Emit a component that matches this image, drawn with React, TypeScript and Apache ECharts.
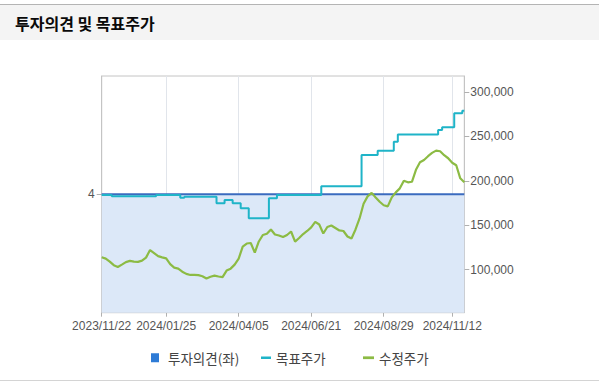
import React, { useEffect, useRef } from 'react';
import * as echarts from 'echarts';

// x-axis anchor dates (tick labels) and their category positions
const tickLabels = ['2023/11/22', '2024/01/25', '2024/04/05', '2024/06/21', '2024/08/29', '2024/11/12'];
const tickIdx = [0, 16, 34, 52, 70, 87];
const lastDate = '2024/11/22';
const pointCount = 91;

// 수정주가 (adjusted price)
const priceValues = [
  113900, 112400, 109000, 105000, 103000, 105600, 108500, 109800, 109000, 108700,
  110100, 113500, 122000, 118600, 115200, 113800, 112600, 106200, 102300, 101100,
  97700, 95200, 94000, 94000, 93800, 92600, 90100, 92000, 93200, 92300,
  91500, 98900, 101100, 105600, 112400, 126000, 129400, 130000, 119200, 131700,
  139000, 140400, 145200, 139600, 138400, 136700, 139000, 142900, 131600, 135600,
  140100, 143500, 147500, 153700, 150800, 140700, 148000, 149700, 146900, 144100,
  143500, 137300, 135000, 145200, 157600, 174200, 182500, 186400, 181300, 176400,
  172500, 171200, 181300, 187000, 191500, 200000, 198300, 198900, 212400, 220900,
  223500, 227700, 231400, 234000, 233300, 228800, 225400, 220300, 217500, 202800,
  198300,
];

// 목표주가 (target price)
const targetValues = [
  184000, 184000, 184000,
  182500, 182500, 182500, 182500, 182500, 182500, 182500, 182500, 182500, 182500, 182500,
  184000, 184000, 184000, 184000, 184000, 184000,
  181000,
  182100, 182100, 182100, 182100, 182100, 182100, 182100, 182100,
  174700, 174700,
  178400, 178400,
  174700, 174700,
  169000, 169000,
  157800, 157800, 157800, 157800, 157800,
  180300, 180300,
  184000, 184000, 184000, 184000, 184000, 184000, 184000, 184000, 184000, 184000, 184000,
  194000, 194000, 194000, 194000, 194000, 194000, 194000, 194000, 194000, 194000,
  229000, 229000, 229000, 229000,
  233900, 233900, 233900, 233900,
  244000,
  252100, 252100, 252100, 252100, 252100, 252100, 252100, 252100, 252100, 252100,
  257200,
  260200, 260200, 260200,
  276000, 276000,
  278900,
];

// 투자의견 (opinion, left axis): constant level 4 across the period
const opinionStart = 4;
const opinionEnd = 4;

const rightTicks = [100000, 150000, 200000, 250000, 300000];
const leftTicks = [4];

function parseD(s: string) {
  const [y, m, d] = s.split('/').map(Number);
  return Date.UTC(y, m - 1, d);
}
function fmtD(t: number) {
  const d = new Date(t);
  const mm = String(d.getUTCMonth() + 1).padStart(2, '0');
  const dd = String(d.getUTCDate()).padStart(2, '0');
  return `${d.getUTCFullYear()}/${mm}/${dd}`;
}

function buildCategories() {
  const aIdx = [...tickIdx, pointCount - 1];
  const aT = [...tickLabels, lastDate].map(parseD);
  const out: string[] = [];
  for (let i = 0; i < pointCount; i++) {
    let k = 0;
    while (k < aIdx.length - 2 && i > aIdx[k + 1]) k++;
    const f = (i - aIdx[k]) / (aIdx[k + 1] - aIdx[k]);
    const t = aT[k] + f * (aT[k + 1] - aT[k]);
    const day = 86400000;
    out.push(fmtD(Math.round(t / day) * day));
  }
  return out;
}

export default function App() {
  const ref = useRef<HTMLDivElement>(null);
  useEffect(() => {
    document.body.style.margin = '0';
    const categories = buildCategories();
    const showIdx = (i: number) => tickIdx.indexOf(i) >= 0;
    const chart = echarts.init(ref.current!, null, { renderer: 'svg' });
    const font = "'Liberation Sans', 'Noto Sans CJK KR', sans-serif";
    const kfont = "'Noto Sans CJK KR', sans-serif";
    chart.setOption({
      animation: false,
      textStyle: { fontFamily: font },
      graphic: [
        { type: 'rect', z: -10, shape: { x: 0, y: 5, width: 599, height: 35 }, style: { fill: '#f4f4f4' } },
        { type: 'line', z: -10, shape: { x1: 0, y1: 4.5, x2: 599, y2: 4.5 }, style: { stroke: '#b4b4b4', lineWidth: 1 } },
        { type: 'line', z: -10, shape: { x1: 0, y1: 380.5, x2: 599, y2: 380.5 }, style: { stroke: '#d4d4d4', lineWidth: 1 } },
      ],
      title: {
        text: '투자의견 및 목표주가',
        left: 15,
        top: 15,
        padding: 0,
        textStyle: { fontSize: 16, fontWeight: 'bold', color: '#0a0a0a', fontFamily: kfont },
      },
      legend: [
        {
          data: [{ name: '투자의견(좌)', icon: 'rect' }],
          left: 146, top: 346, itemWidth: 8, itemHeight: 9, selectedMode: false,
          itemStyle: { borderWidth: 0 },
          textStyle: { fontSize: 13.5, color: '#444', fontFamily: kfont, padding: [0, 0, 0, 4] },
        },
        {
          data: [{ name: '목표주가', icon: 'path://M0,0H10V2.5H0Z' }],
          left: 256, top: 346, itemWidth: 10, itemHeight: 9, selectedMode: false,
          itemStyle: { borderWidth: 0 },
          textStyle: { fontSize: 13.5, color: '#444', fontFamily: kfont },
        },
        {
          data: [{ name: '수정주가', icon: 'path://M0,0H10V2.5H0Z' }],
          left: 358, top: 346, itemWidth: 11, itemHeight: 9, selectedMode: false,
          itemStyle: { borderWidth: 0 },
          textStyle: { fontSize: 13.5, color: '#444', fontFamily: kfont },
        },
      ],
      grid: {
        left: 101.7, top: 76, right: 134.7, bottom: 72.3,
        show: true, borderColor: '#c4c4c4', borderWidth: 1, backgroundColor: '#fff',
      },
      xAxis: {
        type: 'category',
        data: categories,
        boundaryGap: false,
        axisLine: { lineStyle: { color: '#c4c4c4' } },
        axisTick: { interval: showIdx, length: 4, lineStyle: { color: '#b0b0b0' } },
        axisLabel: { interval: showIdx, color: '#555', fontSize: 12, margin: 7 },
        splitLine: { show: true, interval: showIdx, lineStyle: { color: '#e1e5eb' } },
      },
      yAxis: [
        {
          type: 'value', min: 0, max: 8, position: 'left',
          axisLine: { show: true, lineStyle: { color: '#c4c4c4' } },
          axisTick: { show: true, length: 5, customValues: leftTicks, lineStyle: { color: '#b0b0b0' } },
          axisLabel: { customValues: leftTicks, color: '#555', fontSize: 12, margin: 7 },
          splitLine: { show: false },
        },
        {
          type: 'value', min: 51500, max: 318000, position: 'right',
          axisLine: { show: true, lineStyle: { color: '#c4c4c4' } },
          axisTick: { show: true, length: 5, customValues: rightTicks, lineStyle: { color: '#b0b0b0' } },
          axisLabel: {
            customValues: rightTicks, color: '#555', fontSize: 12, margin: 6,
            formatter: (v: number) => v.toLocaleString('en-US'),
          },
          splitLine: { show: false },
        },
      ],
      series: [
        {
          name: '투자의견(좌)', type: 'line', yAxisIndex: 0, z: 1,
          data: [[0, opinionStart], [pointCount - 1, opinionEnd]],
          symbol: 'none',
          lineStyle: { color: '#3b6bbf', width: 2 },
          itemStyle: { color: '#2e7bd6' },
          areaStyle: { color: '#dce8f8', opacity: 1 },
        },
        {
          name: '목표주가', type: 'line', yAxisIndex: 1, z: 3, step: 'middle',
          data: targetValues, symbol: 'none',
          lineStyle: { color: '#1fb4c8', width: 2 },
          itemStyle: { color: '#1fb4c8' },
        },
        {
          name: '수정주가', type: 'line', yAxisIndex: 1, z: 4,
          data: priceValues, symbol: 'none',
          lineStyle: { color: '#8cbb44', width: 2.2 },
          itemStyle: { color: '#8cbb44' },
        },
      ],
    });
    return () => chart.dispose();
  }, []);
  return <div ref={ref} style={{ width: 599, height: 385 }} />;
}
